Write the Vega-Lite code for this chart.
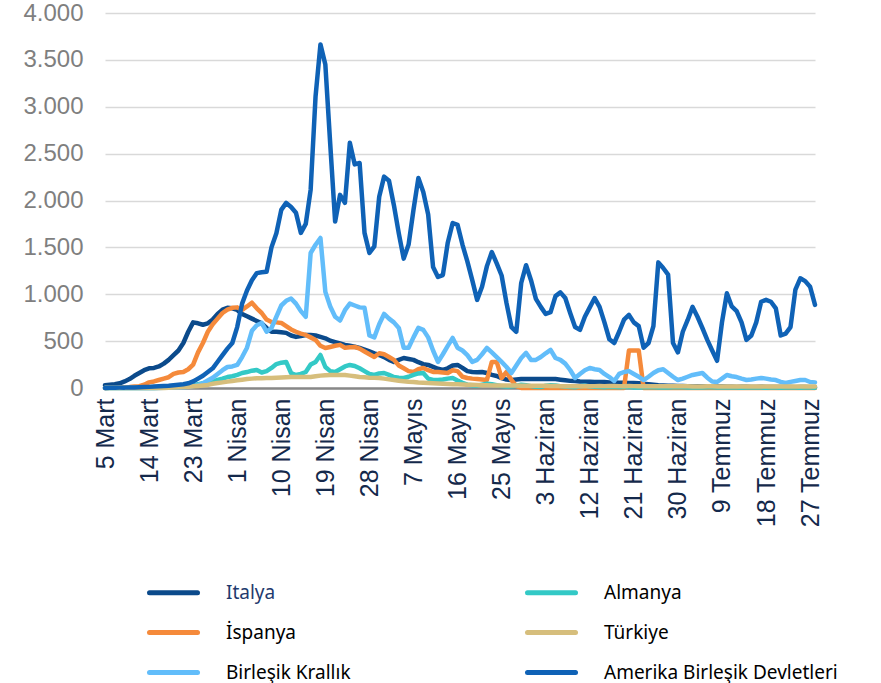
{
  "$schema": "https://vega.github.io/schema/vega-lite/v6.json",
  "width": 710,
  "height": 375,
  "autosize": {"type": "none"},
  "padding": {"left": 105, "top": 13, "right": 66, "bottom": 295},
  "background": "white",
  "config": {"view": {"stroke": null}, "font": "Liberation Sans"},
  "data": {"values": [
{"d":"2020-03-05","IT":30,"ES":0,"DE":0,"UK":0,"TR":0,"US":1},
{"d":"2020-03-06","IT":35,"ES":2,"DE":0,"UK":0,"TR":0,"US":2},
{"d":"2020-03-07","IT":40,"ES":3,"DE":0,"UK":0,"TR":0,"US":3},
{"d":"2020-03-08","IT":50,"ES":5,"DE":0,"UK":0,"TR":0,"US":4},
{"d":"2020-03-09","IT":70,"ES":8,"DE":0,"UK":0,"TR":0,"US":4},
{"d":"2020-03-10","IT":95,"ES":10,"DE":0,"UK":0,"TR":0,"US":6},
{"d":"2020-03-11","IT":130,"ES":15,"DE":0,"UK":0,"TR":0,"US":5},
{"d":"2020-03-12","IT":160,"ES":20,"DE":0,"UK":0,"TR":0,"US":8},
{"d":"2020-03-13","IT":190,"ES":35,"DE":0,"UK":0,"TR":0,"US":10},
{"d":"2020-03-14","IT":210,"ES":60,"DE":0,"UK":0,"TR":0,"US":12},
{"d":"2020-03-15","IT":214,"ES":70,"DE":1,"UK":0,"TR":0,"US":15},
{"d":"2020-03-16","IT":230,"ES":85,"DE":2,"UK":1,"TR":0,"US":18},
{"d":"2020-03-17","IT":260,"ES":100,"DE":3,"UK":2,"TR":1,"US":22},
{"d":"2020-03-18","IT":300,"ES":115,"DE":5,"UK":3,"TR":2,"US":25},
{"d":"2020-03-19","IT":350,"ES":150,"DE":8,"UK":4,"TR":4,"US":30},
{"d":"2020-03-20","IT":400,"ES":165,"DE":12,"UK":5,"TR":7,"US":35},
{"d":"2020-03-21","IT":480,"ES":171,"DE":18,"UK":8,"TR":10,"US":40},
{"d":"2020-03-22","IT":600,"ES":200,"DE":25,"UK":12,"TR":14,"US":50},
{"d":"2020-03-23","IT":700,"ES":250,"DE":30,"UK":20,"TR":18,"US":70},
{"d":"2020-03-24","IT":690,"ES":380,"DE":40,"UK":30,"TR":22,"US":100},
{"d":"2020-03-25","IT":675,"ES":480,"DE":50,"UK":50,"TR":27,"US":130},
{"d":"2020-03-26","IT":690,"ES":600,"DE":60,"UK":80,"TR":33,"US":170},
{"d":"2020-03-27","IT":730,"ES":680,"DE":70,"UK":110,"TR":45,"US":210},
{"d":"2020-03-28","IT":790,"ES":740,"DE":85,"UK":150,"TR":53,"US":280},
{"d":"2020-03-29","IT":835,"ES":800,"DE":100,"UK":190,"TR":60,"US":350},
{"d":"2020-03-30","IT":855,"ES":835,"DE":117,"UK":224,"TR":68,"US":420},
{"d":"2020-03-31","IT":850,"ES":855,"DE":125,"UK":230,"TR":75,"US":480},
{"d":"2020-04-01","IT":833,"ES":860,"DE":140,"UK":246,"TR":82,"US":650},
{"d":"2020-04-02","IT":790,"ES":833,"DE":160,"UK":330,"TR":88,"US":900},
{"d":"2020-04-03","IT":765,"ES":870,"DE":170,"UK":430,"TR":95,"US":1040},
{"d":"2020-04-04","IT":740,"ES":910,"DE":185,"UK":610,"TR":100,"US":1150},
{"d":"2020-04-05","IT":715,"ES":850,"DE":192,"UK":670,"TR":105,"US":1225},
{"d":"2020-04-06","IT":690,"ES":800,"DE":165,"UK":694,"TR":105,"US":1235},
{"d":"2020-04-07","IT":640,"ES":730,"DE":180,"UK":600,"TR":107,"US":1240},
{"d":"2020-04-08","IT":600,"ES":705,"DE":214,"UK":640,"TR":107,"US":1500},
{"d":"2020-04-09","IT":600,"ES":700,"DE":255,"UK":760,"TR":110,"US":1650},
{"d":"2020-04-10","IT":595,"ES":694,"DE":270,"UK":880,"TR":112,"US":1900},
{"d":"2020-04-11","IT":588,"ES":660,"DE":278,"UK":930,"TR":115,"US":1975},
{"d":"2020-04-12","IT":560,"ES":625,"DE":160,"UK":955,"TR":117,"US":1930},
{"d":"2020-04-13","IT":545,"ES":600,"DE":139,"UK":900,"TR":117,"US":1870},
{"d":"2020-04-14","IT":555,"ES":580,"DE":150,"UK":820,"TR":117,"US":1655},
{"d":"2020-04-15","IT":566,"ES":566,"DE":171,"UK":760,"TR":117,"US":1750},
{"d":"2020-04-16","IT":566,"ES":540,"DE":250,"UK":1440,"TR":118,"US":2115},
{"d":"2020-04-17","IT":560,"ES":513,"DE":278,"UK":1528,"TR":125,"US":3110},
{"d":"2020-04-18","IT":545,"ES":450,"DE":352,"UK":1600,"TR":132,"US":3665},
{"d":"2020-04-19","IT":530,"ES":427,"DE":224,"UK":1025,"TR":137,"US":3450},
{"d":"2020-04-20","IT":505,"ES":438,"DE":180,"UK":870,"TR":139,"US":2600},
{"d":"2020-04-21","IT":490,"ES":450,"DE":171,"UK":760,"TR":139,"US":1775},
{"d":"2020-04-22","IT":475,"ES":460,"DE":200,"UK":720,"TR":139,"US":2060},
{"d":"2020-04-23","IT":460,"ES":430,"DE":230,"UK":830,"TR":138,"US":1975},
{"d":"2020-04-24","IT":450,"ES":435,"DE":246,"UK":900,"TR":132,"US":2615},
{"d":"2020-04-25","IT":440,"ES":438,"DE":235,"UK":880,"TR":125,"US":2385},
{"d":"2020-04-26","IT":427,"ES":420,"DE":210,"UK":860,"TR":118,"US":2400},
{"d":"2020-04-27","IT":410,"ES":390,"DE":180,"UK":855,"TR":114,"US":1655},
{"d":"2020-04-28","IT":390,"ES":360,"DE":150,"UK":560,"TR":110,"US":1440},
{"d":"2020-04-29","IT":370,"ES":331,"DE":139,"UK":540,"TR":108,"US":1510},
{"d":"2020-04-30","IT":352,"ES":370,"DE":155,"UK":680,"TR":106,"US":2040},
{"d":"2020-05-01","IT":330,"ES":360,"DE":160,"UK":790,"TR":100,"US":2255},
{"d":"2020-05-02","IT":300,"ES":331,"DE":140,"UK":740,"TR":92,"US":2210},
{"d":"2020-05-03","IT":278,"ES":300,"DE":117,"UK":700,"TR":85,"US":1950},
{"d":"2020-05-04","IT":300,"ES":240,"DE":110,"UK":641,"TR":78,"US":1650},
{"d":"2020-05-05","IT":320,"ES":210,"DE":107,"UK":430,"TR":72,"US":1380},
{"d":"2020-05-06","IT":310,"ES":180,"DE":120,"UK":430,"TR":66,"US":1530},
{"d":"2020-05-07","IT":300,"ES":171,"DE":139,"UK":540,"TR":63,"US":1900},
{"d":"2020-05-08","IT":275,"ES":200,"DE":155,"UK":641,"TR":58,"US":2240},
{"d":"2020-05-09","IT":255,"ES":214,"DE":160,"UK":620,"TR":55,"US":2090},
{"d":"2020-05-10","IT":246,"ES":190,"DE":100,"UK":540,"TR":53,"US":1850},
{"d":"2020-05-11","IT":225,"ES":171,"DE":85,"UK":400,"TR":50,"US":1290},
{"d":"2020-05-12","IT":205,"ES":171,"DE":85,"UK":278,"TR":48,"US":1185},
{"d":"2020-05-13","IT":192,"ES":165,"DE":90,"UK":360,"TR":46,"US":1205},
{"d":"2020-05-14","IT":210,"ES":160,"DE":100,"UK":450,"TR":43,"US":1550},
{"d":"2020-05-15","IT":240,"ES":190,"DE":107,"UK":534,"TR":41,"US":1760},
{"d":"2020-05-16","IT":246,"ES":180,"DE":80,"UK":430,"TR":39,"US":1740},
{"d":"2020-05-17","IT":215,"ES":120,"DE":55,"UK":400,"TR":37,"US":1530},
{"d":"2020-05-18","IT":180,"ES":107,"DE":35,"UK":350,"TR":35,"US":1350},
{"d":"2020-05-19","IT":171,"ES":100,"DE":30,"UK":278,"TR":34,"US":1150},
{"d":"2020-05-20","IT":168,"ES":95,"DE":25,"UK":300,"TR":32,"US":940},
{"d":"2020-05-21","IT":171,"ES":90,"DE":35,"UK":360,"TR":30,"US":1080},
{"d":"2020-05-22","IT":160,"ES":85,"DE":45,"UK":427,"TR":29,"US":1300},
{"d":"2020-05-23","IT":140,"ES":278,"DE":40,"UK":380,"TR":28,"US":1450},
{"d":"2020-05-24","IT":128,"ES":278,"DE":30,"UK":330,"TR":28,"US":1330},
{"d":"2020-05-25","IT":105,"ES":107,"DE":20,"UK":278,"TR":27,"US":1200},
{"d":"2020-05-26","IT":90,"ES":171,"DE":15,"UK":224,"TR":27,"US":905},
{"d":"2020-05-27","IT":85,"ES":85,"DE":18,"UK":160,"TR":26,"US":650},
{"d":"2020-05-28","IT":90,"ES":20,"DE":25,"UK":240,"TR":26,"US":600},
{"d":"2020-05-29","IT":96,"ES":0,"DE":35,"UK":320,"TR":25,"US":1120},
{"d":"2020-05-30","IT":95,"ES":0,"DE":30,"UK":374,"TR":25,"US":1310},
{"d":"2020-05-31","IT":96,"ES":0,"DE":20,"UK":300,"TR":25,"US":1150},
{"d":"2020-06-01","IT":95,"ES":0,"DE":12,"UK":300,"TR":24,"US":950},
{"d":"2020-06-02","IT":96,"ES":0,"DE":10,"UK":330,"TR":24,"US":865},
{"d":"2020-06-03","IT":95,"ES":0,"DE":25,"UK":370,"TR":23,"US":790},
{"d":"2020-06-04","IT":96,"ES":0,"DE":30,"UK":406,"TR":22,"US":810},
{"d":"2020-06-05","IT":95,"ES":0,"DE":28,"UK":320,"TR":21,"US":980},
{"d":"2020-06-06","IT":88,"ES":0,"DE":20,"UK":300,"TR":20,"US":1020},
{"d":"2020-06-07","IT":82,"ES":0,"DE":15,"UK":260,"TR":20,"US":960},
{"d":"2020-06-08","IT":76,"ES":0,"DE":10,"UK":192,"TR":19,"US":800},
{"d":"2020-06-09","IT":74,"ES":0,"DE":8,"UK":107,"TR":19,"US":650},
{"d":"2020-06-10","IT":70,"ES":0,"DE":18,"UK":150,"TR":19,"US":620},
{"d":"2020-06-11","IT":68,"ES":0,"DE":25,"UK":190,"TR":18,"US":760},
{"d":"2020-06-12","IT":66,"ES":0,"DE":15,"UK":214,"TR":19,"US":860},
{"d":"2020-06-13","IT":65,"ES":0,"DE":12,"UK":200,"TR":20,"US":960},
{"d":"2020-06-14","IT":64,"ES":0,"DE":10,"UK":192,"TR":21,"US":865},
{"d":"2020-06-15","IT":63,"ES":0,"DE":8,"UK":150,"TR":20,"US":700},
{"d":"2020-06-16","IT":60,"ES":0,"DE":12,"UK":117,"TR":21,"US":520},
{"d":"2020-06-17","IT":58,"ES":0,"DE":10,"UK":75,"TR":21,"US":480},
{"d":"2020-06-18","IT":56,"ES":0,"DE":8,"UK":150,"TR":20,"US":600},
{"d":"2020-06-19","IT":55,"ES":0,"DE":10,"UK":171,"TR":20,"US":730},
{"d":"2020-06-20","IT":54,"ES":400,"DE":12,"UK":180,"TR":21,"US":780},
{"d":"2020-06-21","IT":53,"ES":400,"DE":6,"UK":150,"TR":20,"US":700},
{"d":"2020-06-22","IT":52,"ES":400,"DE":5,"UK":120,"TR":20,"US":660},
{"d":"2020-06-23","IT":45,"ES":0,"DE":8,"UK":85,"TR":19,"US":430},
{"d":"2020-06-24","IT":40,"ES":0,"DE":10,"UK":120,"TR":20,"US":480},
{"d":"2020-06-25","IT":35,"ES":0,"DE":9,"UK":160,"TR":19,"US":660},
{"d":"2020-06-26","IT":30,"ES":0,"DE":6,"UK":190,"TR":19,"US":1340},
{"d":"2020-06-27","IT":28,"ES":0,"DE":4,"UK":200,"TR":18,"US":1280},
{"d":"2020-06-28","IT":25,"ES":0,"DE":5,"UK":160,"TR":18,"US":1210},
{"d":"2020-06-29","IT":23,"ES":0,"DE":8,"UK":120,"TR":18,"US":480},
{"d":"2020-06-30","IT":22,"ES":0,"DE":10,"UK":85,"TR":18,"US":380},
{"d":"2020-07-01","IT":21,"ES":0,"DE":9,"UK":100,"TR":18,"US":600},
{"d":"2020-07-02","IT":19,"ES":0,"DE":6,"UK":120,"TR":18,"US":726},
{"d":"2020-07-03","IT":17,"ES":0,"DE":5,"UK":139,"TR":17,"US":865},
{"d":"2020-07-04","IT":18,"ES":0,"DE":4,"UK":150,"TR":17,"US":760},
{"d":"2020-07-05","IT":16,"ES":0,"DE":6,"UK":160,"TR":17,"US":640},
{"d":"2020-07-06","IT":15,"ES":0,"DE":8,"UK":110,"TR":18,"US":513},
{"d":"2020-07-07","IT":14,"ES":0,"DE":7,"UK":70,"TR":18,"US":400},
{"d":"2020-07-08","IT":16,"ES":0,"DE":5,"UK":64,"TR":17,"US":290},
{"d":"2020-07-09","IT":15,"ES":0,"DE":4,"UK":100,"TR":17,"US":700},
{"d":"2020-07-10","IT":14,"ES":0,"DE":6,"UK":139,"TR":16,"US":1010},
{"d":"2020-07-11","IT":13,"ES":0,"DE":5,"UK":125,"TR":16,"US":870},
{"d":"2020-07-12","IT":12,"ES":0,"DE":4,"UK":117,"TR":17,"US":820},
{"d":"2020-07-13","IT":14,"ES":0,"DE":3,"UK":100,"TR":17,"US":700},
{"d":"2020-07-14","IT":13,"ES":0,"DE":5,"UK":85,"TR":16,"US":513},
{"d":"2020-07-15","IT":12,"ES":0,"DE":6,"UK":90,"TR":16,"US":560},
{"d":"2020-07-16","IT":11,"ES":0,"DE":5,"UK":100,"TR":17,"US":700},
{"d":"2020-07-17","IT":13,"ES":0,"DE":4,"UK":107,"TR":17,"US":920},
{"d":"2020-07-18","IT":12,"ES":0,"DE":3,"UK":100,"TR":16,"US":940},
{"d":"2020-07-19","IT":11,"ES":0,"DE":5,"UK":90,"TR":16,"US":920},
{"d":"2020-07-20","IT":12,"ES":0,"DE":4,"UK":85,"TR":16,"US":850},
{"d":"2020-07-21","IT":10,"ES":0,"DE":3,"UK":65,"TR":15,"US":560},
{"d":"2020-07-22","IT":11,"ES":0,"DE":4,"UK":53,"TR":16,"US":580},
{"d":"2020-07-23","IT":10,"ES":0,"DE":5,"UK":65,"TR":16,"US":650},
{"d":"2020-07-24","IT":9,"ES":0,"DE":4,"UK":75,"TR":15,"US":1050},
{"d":"2020-07-25","IT":10,"ES":0,"DE":3,"UK":85,"TR":16,"US":1170},
{"d":"2020-07-26","IT":11,"ES":0,"DE":4,"UK":85,"TR":16,"US":1140},
{"d":"2020-07-27","IT":9,"ES":0,"DE":5,"UK":64,"TR":15,"US":1080},
{"d":"2020-07-28","IT":8,"ES":0,"DE":3,"UK":60,"TR":15,"US":887}
  ]},
  "transform": [{"fold": ["IT", "ES", "DE", "UK", "TR", "US"], "as": ["k", "v"]}],
  "mark": {"type": "line", "strokeWidth": 4.5, "strokeJoin": "round", "strokeCap": "round"},
  "encoding": {
    "x": {
      "field": "d", "type": "temporal",
      "scale": {"type": "utc", "domain": [{"year": 2020, "month": 3, "date": 5, "utc": true}, {"year": 2020, "month": 7, "date": 28, "utc": true}]},
      "axis": {
        "title": null,
        "values": [
          {"year": 2020, "month": 3, "date": 5, "utc": true},
          {"year": 2020, "month": 3, "date": 14, "utc": true},
          {"year": 2020, "month": 3, "date": 23, "utc": true},
          {"year": 2020, "month": 4, "date": 1, "utc": true},
          {"year": 2020, "month": 4, "date": 10, "utc": true},
          {"year": 2020, "month": 4, "date": 19, "utc": true},
          {"year": 2020, "month": 4, "date": 28, "utc": true},
          {"year": 2020, "month": 5, "date": 7, "utc": true},
          {"year": 2020, "month": 5, "date": 16, "utc": true},
          {"year": 2020, "month": 5, "date": 25, "utc": true},
          {"year": 2020, "month": 6, "date": 3, "utc": true},
          {"year": 2020, "month": 6, "date": 12, "utc": true},
          {"year": 2020, "month": 6, "date": 21, "utc": true},
          {"year": 2020, "month": 6, "date": 30, "utc": true},
          {"year": 2020, "month": 7, "date": 9, "utc": true},
          {"year": 2020, "month": 7, "date": 18, "utc": true},
          {"year": 2020, "month": 7, "date": 27, "utc": true}
        ],
        "labelExpr": "utcdate(datum.value) + ' ' + ['Ocak','Şubat','Mart','Nisan','Mayıs','Haziran','Temmuz','Ağustos'][utcmonth(datum.value)]",
        "labelAngle": -90,
        "labelFont": "Liberation Sans",
        "labelFontSize": 25,
        "labelColor": "#14294b",
        "labelPadding": 10,
        "labelOverlap": false,
        "labelBound": false,
        "labelFlush": false,
        "ticks": false,
        "grid": false,
        "domainColor": "#888888",
        "domainWidth": 2.5
      }
    },
    "y": {
      "field": "v", "type": "quantitative",
      "scale": {"domain": [0, 4000], "nice": false},
      "axis": {
        "title": null,
        "values": [0, 500, 1000, 1500, 2000, 2500, 3000, 3500, 4000],
        "labelExpr": "replace(format(datum.value, ','), ',', '.')",
        "labelFont": "Liberation Sans",
        "labelFontSize": 24,
        "labelColor": "#7f7f7f",
        "labelPadding": 22,
        "ticks": false,
        "domain": false,
        "gridColor": "#d9d9d9",
        "gridWidth": 1.5
      }
    },
    "color": {
      "field": "k", "type": "nominal",
      "scale": {
        "domain": ["IT", "ES", "UK", "DE", "TR", "US"],
        "range": ["#0b4a8b", "#f58a3b", "#62bdfa", "#33c9c6", "#d6be7c", "#0f62b6"]
      },
      "legend": {
        "title": null,
        "orient": "none",
        "legendX": 42,
        "legendY": 553,
        "columns": 2,
        "padding": 0,
        "symbolType": "stroke",
        "symbolSize": 2304,
        "symbolStrokeWidth": 5,
        "labelFont": "Noto Sans",
        "labelFontSize": 19,
        "labelOffset": 26,
        "labelLimit": 400,
        "rowPadding": 3,
        "columnPadding": 166,
        "labelColor": "#000000",
        "labelExpr": "datum.value == 'IT' ? 'Italya' : datum.value == 'DE' ? 'Almanya' : datum.value == 'ES' ? 'İspanya' : datum.value == 'TR' ? 'Türkiye' : datum.value == 'UK' ? 'Birleşik Krallık' : 'Amerika Birleşik Devletleri'",
        "encode": {
          "symbols": {"update": {"strokeCap": {"value": "round"}}},
          "labels": {"update": {"fill": [{"test": "datum.value === 'IT'", "value": "#1f3a6e"}, {"value": "#000000"}]}}
        }
      }
    }
  }
}
